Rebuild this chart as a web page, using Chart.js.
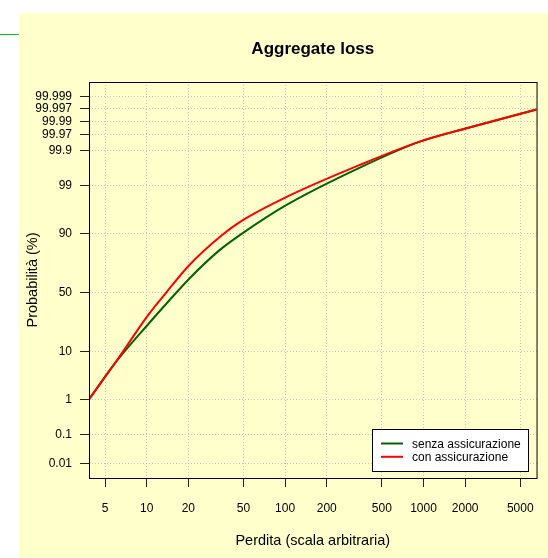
<!DOCTYPE html>
<html>
<head>
<meta charset="utf-8">
<script src="https://cdn.jsdelivr.net/npm/chart.js@4"></script>
<style>
  html, body { margin: 0; padding: 0; background: #ffffff; }
  #wrap { width: 548px; height: 558px; }
</style>
</head>
<body>
<div id="wrap"><canvas id="c" width="548" height="558"></canvas></div>
<script>
// Tick positions of the two axes
const xTicks = [5, 10, 20, 50, 100, 200, 500, 1000, 2000, 5000];
const yTickLabels = ['0.01', '0.1', '1', '10', '50', '90', '99', '99.9', '99.97', '99.99', '99.997', '99.999'];

// Cumulative probability (%) of the aggregate loss, without insurance
const senzaLoss = [3.83, 5.9, 10.4, 16.4, 20.2, 33.3, 48.5, 102.5, 347, 940, 2044, 6556];
const senzaProb = [1, 6.19, 25.19, 50, 61.64, 81.92, 89.9, 97.175, 99.673, 99.949, 99.9826, 99.99665];

// Cumulative probability (%) of the aggregate loss, with insurance
const conLoss = [3.83, 5.9, 10.4, 13.85, 20.2, 34.4, 49.8, 102.5, 347, 940, 2044, 6556];
const conProb = [1, 6.19, 32.06, 50, 72.24, 89.11, 94.3, 98.13, 99.727, 99.949, 99.9826, 99.99665];

const seriesNames = ['senza assicurazione', 'con assicurazione'];
const seriesColors = ['#006400', '#ff0000'];

// Inverse of the standard normal distribution (Acklam's rational approximation),
// used to put probabilities on a normal-probability axis.
function qnorm(p) {
  const a = [-3.969683028665376e+01, 2.209460984245205e+02, -2.759285104469687e+02, 1.383577518672690e+02, -3.066479806614716e+01, 2.506628277459239e+00];
  const b = [-5.447609879822406e+01, 1.615858368580409e+02, -1.556989798598866e+02, 6.680131188771972e+01, -1.328068155288572e+01];
  const c = [-7.784894002430293e-03, -3.223964580411365e-01, -2.400758277161838e+00, -2.549732539343734e+00, 4.374664141464968e+00, 2.938163982698783e+00];
  const d = [7.784695709041462e-03, 3.224671290700398e-01, 2.445134137142996e+00, 3.754408661907416e+00];
  const pl = 0.02425, ph = 1 - pl;
  let q, r;
  if (p < pl) {
    q = Math.sqrt(-2 * Math.log(p));
    return (((((c[0]*q + c[1])*q + c[2])*q + c[3])*q + c[4])*q + c[5]) / ((((d[0]*q + d[1])*q + d[2])*q + d[3])*q + 1);
  }
  if (p <= ph) {
    q = p - 0.5; r = q * q;
    return (((((a[0]*r + a[1])*r + a[2])*r + a[3])*r + a[4])*r + a[5])*q / (((((b[0]*r + b[1])*r + b[2])*r + b[3])*r + b[4])*r + 1);
  }
  q = Math.sqrt(-2 * Math.log(1 - p));
  return -(((((c[0]*q + c[1])*q + c[2])*q + c[3])*q + c[4])*q + c[5]) / ((((d[0]*q + d[1])*q + d[2])*q + d[3])*q + 1);
}

const toPoints = (xs, ps) => xs.map((x, i) => ({ x: x, y: qnorm(ps[i] / 100) }));

// Vertical range: 0.01% .. 99.999% plus a 4% margin on each side
const zLo = qnorm(0.0001), zHi = qnorm(0.99999);
const zPad = 0.04 * (zHi - zLo);
const xMin = Math.min(...senzaLoss, ...conLoss);
const xMax = Math.max(...senzaLoss, ...conLoss);

const FONT = "'Liberation Sans', Arial, Helvetica, sans-serif";
Chart.defaults.font.family = FONT;
Chart.defaults.font.size = 12;
Chart.defaults.color = '#000';

const BG = '#ffffcc';

const decor = {
  id: 'decor',
  beforeDraw(chart) {
    const ctx = chart.ctx;
    ctx.save();
    ctx.fillStyle = '#ffffff';
    ctx.fillRect(0, 0, chart.width, chart.height);
    ctx.fillStyle = BG;
    ctx.fillRect(19, 13, chart.width - 19, chart.height - 13);
    ctx.strokeStyle = '#00cc00';
    ctx.lineWidth = 1;
    ctx.beginPath();
    ctx.moveTo(0, 34.5);
    ctx.lineTo(19, 34.5);
    ctx.stroke();
    ctx.restore();
  },
  afterDraw(chart) {
    const ctx = chart.ctx;
    const ca = chart.chartArea;
    const cx = (ca.left + ca.right) / 2;
    const cy = (ca.top + ca.bottom) / 2;
    ctx.save();

    // plot frame
    ctx.strokeStyle = '#000';
    ctx.lineWidth = 1;
    ctx.strokeRect(ca.left + 0.5, ca.top + 0.5, ca.right - ca.left, ca.bottom - ca.top);

    // titles
    ctx.fillStyle = '#000';
    ctx.textAlign = 'center';
    ctx.textBaseline = 'alphabetic';
    ctx.font = 'bold 17px ' + FONT;
    ctx.fillText('Aggregate loss', cx, 54);
    ctx.font = '14.5px ' + FONT;
    ctx.fillText('Perdita (scala arbitraria)', cx, 545);
    ctx.save();
    ctx.translate(37, cy);
    ctx.rotate(-Math.PI / 2);
    ctx.fillText('Probabilità (%)', 0, 0);
    ctx.restore();

    // legend
    const lx = 372, ly = 429, lw = 156, lh = 42;
    ctx.fillStyle = '#ffffff';
    ctx.fillRect(lx, ly, lw, lh);
    ctx.strokeStyle = '#000';
    ctx.strokeRect(lx + 0.5, ly + 0.5, lw, lh);
    ctx.font = '12px ' + FONT;
    ctx.textAlign = 'left';
    chart.data.datasets.forEach((ds, i) => {
      const y = 443.5 + i * 13.3;
      ctx.strokeStyle = ds.borderColor;
      ctx.lineWidth = 2;
      ctx.beginPath();
      ctx.moveTo(381, y);
      ctx.lineTo(403, y);
      ctx.stroke();
      ctx.fillStyle = '#000';
      ctx.fillText(ds.label, 412, y + 4.5);
    });
    ctx.restore();
  }
};

new Chart(document.getElementById('c'), {
  type: 'line',
  data: {
    datasets: [
      {
        label: seriesNames[0],
        data: toPoints(senzaLoss, senzaProb),
        borderColor: seriesColors[0],
        borderWidth: 2,
        pointRadius: 0,
        fill: false,
        cubicInterpolationMode: 'monotone',
        order: 1
      },
      {
        label: seriesNames[1],
        data: toPoints(conLoss, conProb),
        borderColor: seriesColors[1],
        borderWidth: 2,
        pointRadius: 0,
        fill: false,
        cubicInterpolationMode: 'monotone',
        order: 0
      }
    ]
  },
  options: {
    responsive: false,
    animation: false,
    devicePixelRatio: 1,
    layout: { padding: { left: 0, top: 82, right: 11, bottom: 0 } },
    plugins: { legend: { display: false }, tooltip: { enabled: false }, title: { display: false } },
    scales: {
      x: {
        type: 'logarithmic',
        bounds: 'data',
        min: xMin,
        max: xMax,
        afterBuildTicks: s => { s.ticks = xTicks.map(v => ({ value: v })); },
        afterFit: s => { s.height = 80; },
        ticks: {
          autoSkip: false, maxRotation: 0, minRotation: 0, padding: 14,
          color: '#000', font: { size: 12 },
          callback: (v, i) => String(xTicks[i])
        },
        grid: { color: '#c4c4c4', lineWidth: 1, drawTicks: true, tickLength: 9, tickColor: '#222', tickWidth: 1, tickBorderDash: [] },
        border: { display: false, dash: [1, 2] }
      },
      y: {
        type: 'linear',
        bounds: 'data',
        min: zLo - zPad,
        max: zHi + zPad,
        afterBuildTicks: s => { s.ticks = yTickLabels.map(l => ({ value: qnorm(parseFloat(l) / 100) })); },
        afterFit: s => { s.width = 89; },
        ticks: {
          autoSkip: false, padding: 8,
          color: '#000', font: { size: 12 },
          callback: (v, i) => yTickLabels[i]
        },
        grid: { color: '#c4c4c4', lineWidth: 1, drawTicks: true, tickLength: 9, tickColor: '#222', tickWidth: 1, tickBorderDash: [] },
        border: { display: false, dash: [1, 2] }
      }
    }
  },
  plugins: [decor]
});
</script>
</body>
</html>
